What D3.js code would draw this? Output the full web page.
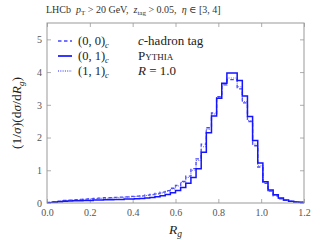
<!DOCTYPE html>
<html>
<head>
<meta charset="utf-8">
<script src="https://cdn.jsdelivr.net/npm/d3@7"></script>
<style>
  body { margin: 0; background: #fff; }
  svg { display: block; }
  text { font-family: "Liberation Serif", "DejaVu Serif", serif; }
</style>
</head>
<body>
<svg width="320" height="240"></svg>
<script>
// 50 bins over R_g in [0, 1.2]
const rgMin = 0, rgMax = 1.2, nBins = 50;

// (0,0)_c  dashed
const series00 = [0.02, 0.04, 0.06, 0.08, 0.09, 0.10, 0.11, 0.12, 0.13, 0.14,
  0.15, 0.16, 0.16, 0.17, 0.18, 0.19, 0.20, 0.21, 0.22, 0.24,
  0.26, 0.29, 0.33, 0.38, 0.45, 0.54, 0.66, 0.82, 1.05, 1.35,
  1.80, 2.30, 2.75, 3.25, 3.61, 3.77, 3.77, 3.49, 3.06, 2.49,
  1.75, 1.10, 0.60, 0.36, 0.22, 0.13, 0.08, 0.05, 0.03, 0.02];
// (0,1)_c  solid
const series01 = [0.01, 0.02, 0.04, 0.05, 0.06, 0.07, 0.07, 0.08, 0.08, 0.09,
  0.09, 0.10, 0.10, 0.11, 0.11, 0.12, 0.12, 0.13, 0.14, 0.15,
  0.17, 0.19, 0.22, 0.26, 0.31, 0.38, 0.47, 0.60, 0.78, 1.05,
  1.55, 2.15, 2.66, 3.20, 3.66, 3.97, 3.97, 3.74, 3.27, 2.64,
  1.91, 1.22, 0.65, 0.40, 0.25, 0.15, 0.09, 0.05, 0.03, 0.02];
// (1,1)_c  dotted
const series11 = [0.02, 0.03, 0.05, 0.07, 0.08, 0.09, 0.10, 0.11, 0.12, 0.13,
  0.14, 0.14, 0.15, 0.16, 0.17, 0.18, 0.19, 0.20, 0.21, 0.23,
  0.25, 0.28, 0.31, 0.36, 0.43, 0.52, 0.63, 0.78, 1.00, 1.30,
  1.72, 2.25, 2.72, 3.22, 3.63, 3.82, 3.82, 3.55, 3.10, 2.52,
  1.80, 1.14, 0.62, 0.37, 0.23, 0.14, 0.08, 0.05, 0.03, 0.02];

const xTicks = [0.0, 0.2, 0.4, 0.6, 0.8, 1.0, 1.2];
const yTicks = [0, 1, 2, 3, 4, 5];

const margin = {top: 23, right: 16, bottom: 37, left: 47};
const width = 320, height = 240;

const svg = d3.select("svg");

const x = d3.scaleLinear().domain([rgMin, rgMax]).range([margin.left, width - margin.right]);
const y = d3.scaleLinear().domain([0, 5.5]).range([height - margin.bottom, margin.top]);

const frameColor = "#999";

// ticks inward on all four sides
const g = svg.append("g");
g.append("g")
  .attr("transform", "translate(0," + y(0) + ")")
  .call(d3.axisBottom(x).tickValues(xTicks).tickSize(-4).tickPadding(6).tickFormat(d3.format(".1f")));
g.append("g")
  .attr("transform", "translate(0," + y(5.5) + ")")
  .call(d3.axisTop(x).tickValues(xTicks).tickSize(-4).tickFormat(""));
g.append("g")
  .attr("transform", "translate(" + x(0) + ",0)")
  .call(d3.axisLeft(y).tickValues(yTicks).tickSize(-4).tickPadding(5).tickFormat(d3.format("d")));
g.append("g")
  .attr("transform", "translate(" + x(1.2) + ",0)")
  .call(d3.axisRight(y).tickValues(yTicks).tickSize(-4).tickFormat(""));
g.selectAll(".domain").remove();
g.selectAll(".tick line").attr("stroke", frameColor).attr("stroke-width", 0.8);
g.selectAll(".tick text")
  .attr("fill", "#555")
  .style("font-family", "Liberation Serif, serif")
  .style("font-size", "10px");

// step histograms
const edges = d3.range(nBins + 1).map(i => rgMin + i * (rgMax - rgMin) / nBins);
const stepLine = d3.line()
  .x(d => x(d[0]))
  .y(d => y(d[1]))
  .curve(d3.curveStepAfter);
function histPoints(vals) {
  const pts = vals.map((v, i) => [edges[i], v]);
  pts.push([edges[nBins], vals[nBins - 1]]);
  return pts;
}

const styles = [
  {vals: series00, color: "#4646ff", width: 1.3, dash: "3.5,2.5"},
  {vals: series11, color: "#6b6bff", width: 1.1, dash: "1,1.3"},
  {vals: series01, color: "#1414ff", width: 1.5, dash: null}
];

svg.append("defs").append("clipPath").attr("id", "clip")
  .append("rect")
  .attr("x", x(0)).attr("y", y(5.5))
  .attr("width", x(1.2) - x(0)).attr("height", y(0) - y(5.5));

styles.forEach(s => {
  svg.append("path")
    .attr("clip-path", "url(#clip)")
    .attr("d", stepLine(histPoints(s.vals)))
    .attr("fill", "none")
    .attr("stroke", s.color)
    .attr("stroke-width", s.width)
    .attr("stroke-dasharray", s.dash);
});

// frame
svg.append("rect")
  .attr("x", x(0)).attr("y", y(5.5))
  .attr("width", x(1.2) - x(0)).attr("height", y(0) - y(5.5))
  .attr("fill", "none")
  .attr("stroke", frameColor)
  .attr("stroke-width", 1);

// title
const nb = "\u00a0";
const title = svg.append("text")
  .attr("x", 46).attr("y", 13)
  .attr("fill", "#333")
  .style("font-size", "10px");
title.append("tspan").text("LHCb" + nb + nb);
title.append("tspan").attr("font-style", "italic").text("p");
title.append("tspan").attr("font-size", "7px").attr("dy", 2).text("T");
title.append("tspan").attr("dy", -2).text(nb + ">" + nb + "20" + nb + "GeV," + nb + nb);
title.append("tspan").attr("font-style", "italic").text("z");
title.append("tspan").attr("font-size", "7px").attr("dy", 2).text("tag");
title.append("tspan").attr("dy", -2).text(nb + ">" + nb + "0.05," + nb + nb);
title.append("tspan").attr("font-style", "italic").text("η");
title.append("tspan").text(nb + "∈" + nb + "[3," + nb + "4]");

// legend
const legendNames = ["(0, 0)", "(0, 1)", "(1, 1)"];
const legendStyles = [styles[0], styles[2], styles[1]];
const legendY = [41, 56, 71];
legendNames.forEach((name, i) => {
  const s = legendStyles[i];
  svg.append("line")
    .attr("x1", 58).attr("x2", 72)
    .attr("y1", legendY[i]).attr("y2", legendY[i])
    .attr("stroke", s.color)
    .attr("stroke-width", s.width + 0.2)
    .attr("stroke-dasharray", s.dash);
  const t = svg.append("text")
    .attr("x", 78).attr("y", legendY[i] + 4)
    .attr("fill", "#222")
    .style("font-size", "12.5px");
  t.append("tspan").text(name);
  t.append("tspan").attr("font-style", "italic").attr("font-size", "8.5px").attr("dy", 3).text("c");
});

const r1 = svg.append("text").attr("x", 138).attr("y", legendY[0] + 4).attr("fill", "#222").style("font-size", "13px");
r1.append("tspan").attr("font-style", "italic").text("c");
r1.append("tspan").text("-hadron tag");
svg.append("text").attr("x", 138).attr("y", legendY[1] + 4).attr("fill", "#222")
  .style("font-size", "13px").style("font-variant", "small-caps").text("Pythia");
const r3 = svg.append("text").attr("x", 138).attr("y", legendY[2] + 4).attr("fill", "#222").style("font-size", "13px");
r3.append("tspan").attr("font-style", "italic").text("R");
r3.append("tspan").text(nb + "=" + nb + "1.0");

// axis labels
const xl = svg.append("text")
  .attr("x", (x(0) + x(1.2)) / 2).attr("y", 234)
  .attr("text-anchor", "middle").attr("fill", "#222")
  .style("font-size", "13.5px");
xl.append("tspan").attr("font-style", "italic").text("R");
xl.append("tspan").attr("font-style", "italic").attr("font-size", "9.5px").attr("dy", 3).text("g");

const yl = svg.append("text")
  .attr("transform", "translate(21," + ((y(0) + y(5.5)) / 2) + ") rotate(-90)")
  .attr("text-anchor", "middle").attr("fill", "#222")
  .style("font-size", "13.5px");
yl.append("tspan").text("(1/");
yl.append("tspan").attr("font-style", "italic").text("σ");
yl.append("tspan").text(")(d");
yl.append("tspan").attr("font-style", "italic").text("σ");
yl.append("tspan").text("/d");
yl.append("tspan").attr("font-style", "italic").text("R");
yl.append("tspan").attr("font-style", "italic").attr("font-size", "9px").attr("dy", 3).text("g");
yl.append("tspan").attr("dy", -3).text(")");
</script>
</body>
</html>
